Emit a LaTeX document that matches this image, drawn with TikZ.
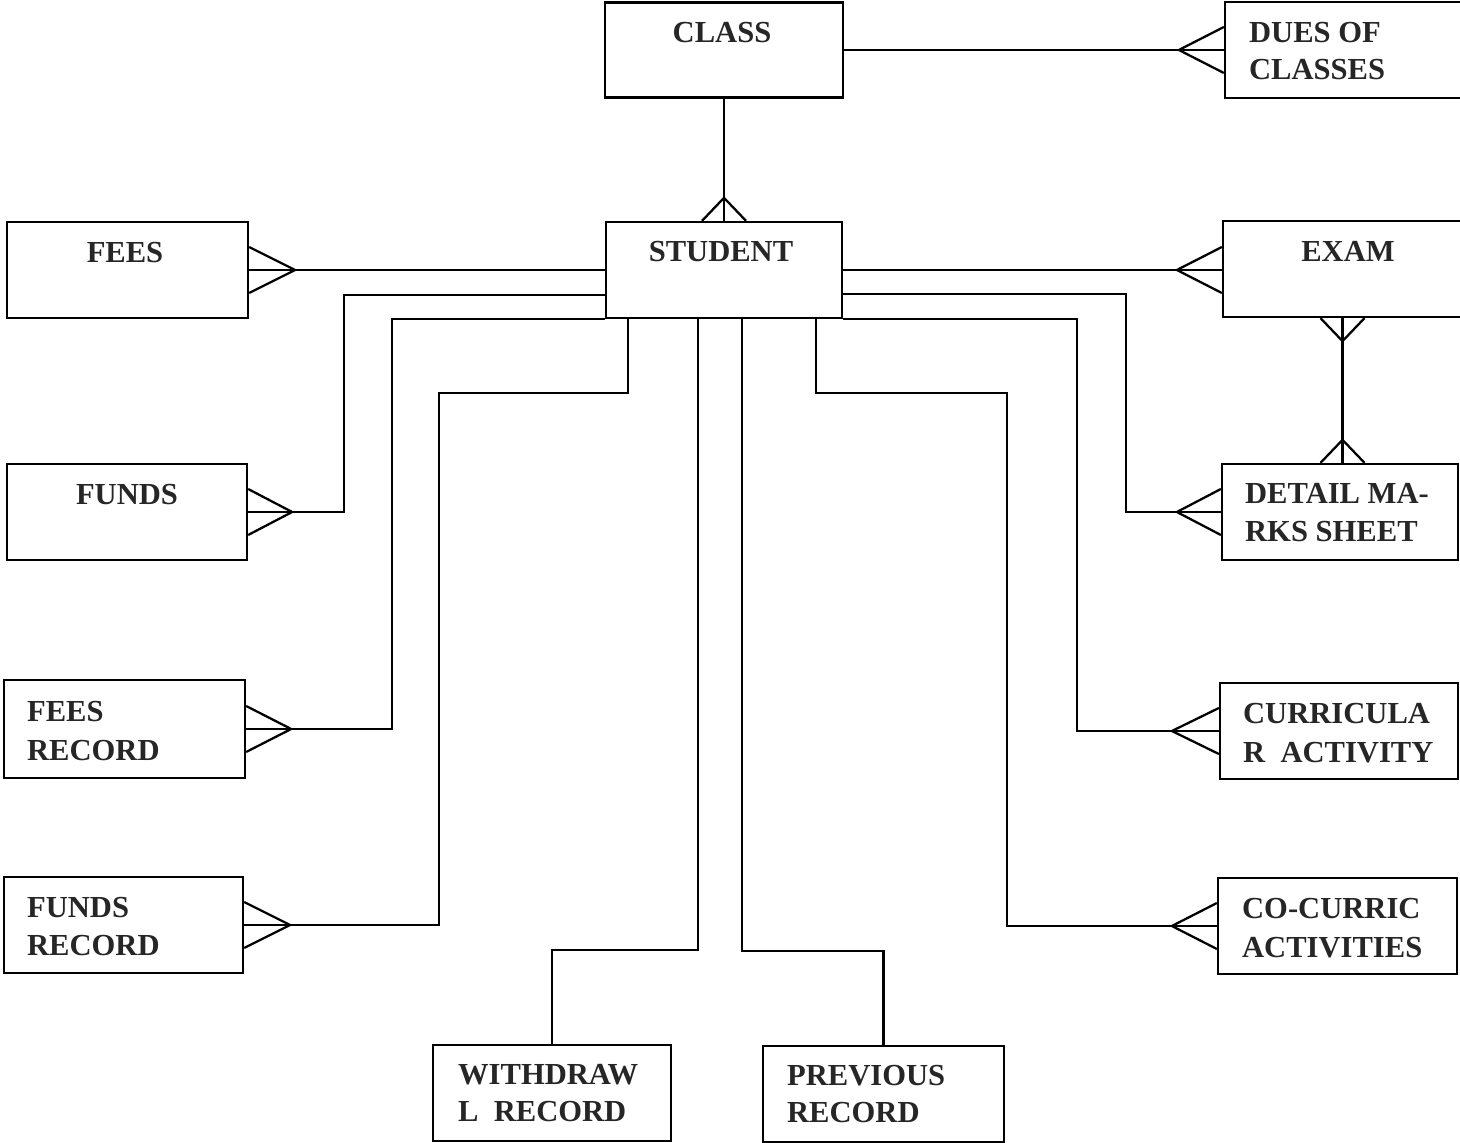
\documentclass[tikz,border=0pt]{standalone}
\usepackage{fontspec}
\setmainfont{Liberation Serif}
\usetikzlibrary{calc}
\newcommand\crowH[2]{\draw ($#1+(0,-23)$) -- ($#1+(#2,0)$) -- ($#1+(0,23)$);}
\newcommand\crowV[2]{\draw ($#1+(-22,0)$) -- ($#1+(0,#2)$) -- ($#1+(22,0)$);}
\tikzset{
  ent/.style={draw, rectangle, inner sep=0pt},
  lbl/.style={inner sep=0pt, font=\bfseries\fontsize{8.7}{10}\selectfont, text=black!85},
}
\begin{document}
\begin{tikzpicture}[x=0.1mm, y=-0.1mm, line width=0.65pt, line join=miter]
\fill[white] (0,0) rectangle (1460,1143);
\useasboundingbox (0,0) rectangle (1460,1143);

% entity boxes
\node[ent, minimum width=23.8mm, minimum height=9.5mm] (class) at (724,50) {};
\node[ent, minimum width=23.7mm, minimum height=9.6mm] (dues) at (1343.5,50) {};
\node[ent, minimum width=23.6mm, minimum height=9.6mm] (student) at (724,270) {};
\node[ent, minimum width=24.1mm, minimum height=9.6mm] (fees) at (127.5,270) {};
\node[ent, minimum width=23.9mm, minimum height=9.6mm] (exam) at (1342.5,269) {};
\node[ent, minimum width=24.0mm, minimum height=9.6mm] (funds) at (127,512) {};
\node[ent, minimum width=23.6mm, minimum height=9.6mm] (detail) at (1340,512) {};
\node[ent, minimum width=24.1mm, minimum height=9.8mm] (feesrec) at (124.5,729) {};
\node[ent, minimum width=23.8mm, minimum height=9.6mm] (curr) at (1339,731) {};
\node[ent, minimum width=23.9mm, minimum height=9.6mm] (fundsrec) at (123.5,925) {};
\node[ent, minimum width=23.9mm, minimum height=9.6mm] (cocur) at (1337.5,926) {};
\node[ent, minimum width=23.8mm, minimum height=9.6mm] (withdraw) at (552,1093) {};
\node[ent, minimum width=24.1mm, minimum height=9.6mm] (previous) at (883.5,1094) {};

% labels
\node[lbl, anchor=base] (classT) at (722,43) {CLASS};
\node[lbl, anchor=base west] (duesT1) at (1248,43) {DUES OF};
\node[lbl, anchor=base west] (duesT2) at (1248,80) {CLASSES};
\node[lbl, anchor=base] (studentT) at (721,262) {STUDENT};
\node[lbl, anchor=base] (feesT) at (125,263) {FEES};
\node[lbl, anchor=base] (examT) at (1348,262) {EXAM};
\node[lbl, anchor=base] (fundsT) at (127,505) {FUNDS};
\node[lbl, anchor=base west] (detailT1) at (1244,504) {DETAIL MA-};
\node[lbl, anchor=base west] (detailT2) at (1244,542) {RKS SHEET};
\node[lbl, anchor=base west] (feesrecT1) at (26,722) {FEES};
\node[lbl, anchor=base west] (feesrecT2) at (26,760) {RECORD};
\node[lbl, anchor=base west] (fundsrecT1) at (26,917) {FUNDS};
\node[lbl, anchor=base west] (fundsrecT2) at (26,955) {RECORD};
\node[lbl, anchor=base west] (currT1) at (1242,723) {CURRICULA};
\node[lbl, anchor=base west] (currT2) at (1242,762) {R~~ACTIVITY};
\node[lbl, anchor=base west] (cocurT1) at (1241,918) {CO-CURRIC};
\node[lbl, anchor=base west] (cocurT2) at (1241,957) {ACTIVITIES};
\node[lbl, anchor=base west] (withdrawT1) at (457,1084) {WITHDRAW};
\node[lbl, anchor=base west] (withdrawT2) at (457,1121) {L~~RECORD};
\node[lbl, anchor=base west] (previousT1) at (786,1085) {PREVIOUS};
\node[lbl, anchor=base west] (previousT2) at (786,1122) {RECORD};

% connectors
\draw (class.east) -- (dues.west);
\crowH{(dues.west)}{-45}
\draw (class.south -| student.north) -- (student.north);
\crowV{(student.north)}{-23}

\draw (fees.east) -- (student.west);
\crowH{(fees.east)}{46}
\draw (funds.east) -- ++(96,0) |- ($(student.west)+(0,25)$);
\crowH{(funds.east)}{44}
\draw (feesrec.east) -- ++(146,0) |- (student.south west);
\crowH{(feesrec.east)}{45}
\draw ($(student.south)+(-96,0)$) -- ++(0,74) -| ($(fundsrec.east)+(195,0)$) -- (fundsrec.east);
\crowH{(fundsrec.east)}{46}

\draw ($(student.south)+(-26,0)$) -- ++(0,631) -| (withdraw.north);
\draw ($(student.south)+(18,0)$) -- ++(0,632) -| (previous.north);

\draw (student.east) -- (student.east -| exam.west);
\crowH{(student.east -| exam.west)}{-45}
\draw ($(student.east)+(0,24)$) -| ($(detail.west)+(-95,0)$) -- (detail.west);
\crowH{(detail.west)}{-44}
\draw (student.south east) -| ($(curr.west)+(-142,0)$) -- (curr.west);
\crowH{(curr.west)}{-47}
\draw ($(student.south)+(92,0)$) -- ++(0,74) -| ($(cocur.west)+(-210,0)$) -- (cocur.west);
\crowH{(cocur.west)}{-45}

\draw (exam.south) -- (exam.south |- detail.north);
\crowV{(exam.south)}{23}
\crowV{(exam.south |- detail.north)}{-23}
\end{tikzpicture}
\end{document}
